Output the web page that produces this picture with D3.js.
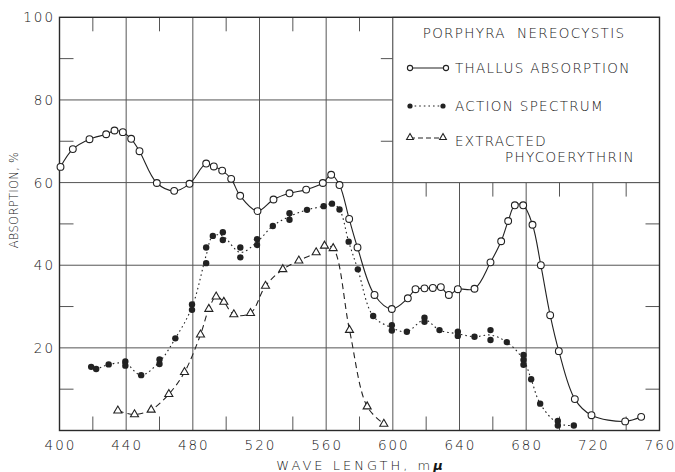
<!DOCTYPE html>
<html>
<head>
<meta charset="utf-8">
<script src="https://cdn.jsdelivr.net/npm/d3@7/dist/d3.min.js"></script>
<style>
  html, body { margin: 0; padding: 0; background: #fff; }
  svg { display: block; }
  text { font-family: "DejaVu Sans", "Liberation Sans", sans-serif; font-weight: 300; fill: #151515; }
</style>
</head>
<body>
<svg id="chart" width="675" height="472"></svg>
<script>
// Wavelength (mμ) and absorption (%) readings for each series
const thallusAbsorption = [
  [400.6, 63.8], [408, 68.1], [418, 70.5], [428, 71.7], [433, 72.6], [438, 72.2],
  [443, 70.6], [448, 67.6], [458.4, 59.9], [468.8, 58.0], [478, 59.7], [488, 64.6],
  [492.6, 63.9], [497.6, 62.9], [503, 60.9], [508.4, 56.8], [518.8, 53.1], [528.4, 55.9],
  [538, 57.4], [548, 58.3], [558, 59.9], [563, 61.9], [568, 59.4], [573.8, 51.2],
  [578.8, 44.3], [589, 32.8], [599.4, 29.4], [609, 32.0], [613.6, 34.2], [619, 34.4],
  [624, 34.5], [628.8, 34.7], [633.6, 32.8], [639, 34.2], [649, 34.3], [658.6, 40.7],
  [665, 45.8], [669.2, 50.7], [673.2, 54.5], [678.2, 54.5], [683.8, 49.8], [688.8, 40.0],
  [694.4, 27.9], [699.6, 19.2], [709.2, 7.6], [719.2, 3.7], [739.4, 2.2], [749, 3.3]
];

const actionSpectrum = [
  [419, 15.4], [422, 14.9], [429.5, 16.0], [439.5, 16.7], [439.5, 15.7], [449, 13.4],
  [460, 17.2], [460, 16.1], [469.5, 22.3], [479.5, 30.5], [479.5, 29.2], [488, 44.3],
  [488, 40.5], [492, 47.1], [498, 48.0], [498, 46.1], [508.5, 44.3], [508.5, 41.9],
  [518.5, 46.3], [518.5, 44.9], [528, 49.5], [538, 52.6], [538, 51.0], [548.5, 53.4],
  [558.5, 54.3], [563.5, 54.9], [568, 53.5], [573.5, 45.7], [579, 39.0], [588.2, 27.7],
  [599.4, 25.5], [599.4, 24.2], [608.4, 23.9], [619, 27.3], [619, 26.3], [628, 24.3],
  [639, 23.9], [639, 22.9], [649, 22.7], [658.6, 24.3], [658.6, 21.9], [668.4, 21.4],
  [678.4, 18.3], [678.4, 17.1], [678.4, 15.9], [683, 12.4], [688.4, 6.5], [699, 2.3],
  [699, 1.2], [708.6, 1.2]
];

const extractedPhycoerythrin = [
  [435, 4.8], [445, 3.9], [455, 5.0], [465.6, 8.8], [475, 14.1], [484.6, 23.2],
  [489.6, 29.4], [494, 32.4], [498.6, 31.1], [504.6, 28.1], [514.6, 28.4], [523.6, 35.0],
  [534, 39.0], [543.6, 41.1], [554, 43.1], [559, 44.7], [564.2, 44.1], [574, 24.3],
  [584.6, 5.8], [594.6, 1.6]
];

const xTickLabels = [400, 440, 480, 520, 560, 600, 640, 680, 720, 760];
const yTickLabels = [20, 40, 60, 80, 100];
const xMinorTicks = [420, 460, 500, 540, 580, 620, 660, 700, 740];
const yMinorTicks = [10, 30, 50, 70, 90];

const legendTitle = "PORPHYRA  NEREOCYSTIS";
const legendLabels = ["THALLUS ABSORPTION", "ACTION SPECTRUM", "EXTRACTED", "PHYCOERYTHRIN"];
const xTitle = "WAVE LENGTH, m";
const yTitle = "ABSORPTION, %";

const svg = d3.select("#chart");
const ink = "#222";
const gridInk = "#555";

const x = d3.scaleLinear().domain([400, 760]).range([59.5, 659.5]);
const y = d3.scaleLinear().domain([0, 100]).range([430.5, 17.3]);

const plotL = x(400), plotR = x(760), plotT = y(100), plotB = y(0);

// grid lines
const grid = svg.append("g").attr("stroke", gridInk).attr("stroke-width", 1);
grid.selectAll("line.v").data(xTickLabels.slice(1, -1)).join("line")
  .attr("x1", d => x(d)).attr("x2", d => x(d)).attr("y1", plotT).attr("y2", plotB);
grid.selectAll("line.h").data(yTickLabels.slice(0, -1)).join("line")
  .attr("x1", plotL).attr("x2", plotR).attr("y1", d => y(d)).attr("y2", d => y(d));

// minor ticks on the frame
const tickLen = 14;
const ticks = svg.append("g").attr("stroke", gridInk).attr("stroke-width", 1);
ticks.selectAll("line.t").data(xMinorTicks).join("line")
  .attr("x1", d => x(d)).attr("x2", d => x(d)).attr("y1", plotT).attr("y2", plotT + tickLen);
ticks.selectAll("line.b").data(xMinorTicks).join("line")
  .attr("x1", d => x(d)).attr("x2", d => x(d)).attr("y1", plotB).attr("y2", plotB - tickLen);
ticks.selectAll("line.l").data(yMinorTicks).join("line")
  .attr("x1", plotL).attr("x2", plotL + tickLen).attr("y1", d => y(d)).attr("y2", d => y(d));
ticks.selectAll("line.r").data(yMinorTicks).join("line")
  .attr("x1", plotR).attr("x2", plotR - tickLen).attr("y1", d => y(d)).attr("y2", d => y(d));

// legend panel in the upper right, bounded by the 600 and 60 grid lines
const boxX0 = x(600), boxY1 = y(60);
svg.append("rect")
  .attr("x", boxX0).attr("y", plotT).attr("width", plotR - boxX0).attr("height", boxY1 - plotT)
  .attr("fill", "#fff").attr("stroke", gridInk).attr("stroke-width", 1);
const boxTicks = svg.append("g").attr("stroke", gridInk).attr("stroke-width", 1);
boxTicks.selectAll("line.bb").data(xMinorTicks.filter(d => d > 600)).join("line")
  .attr("x1", d => x(d)).attr("x2", d => x(d)).attr("y1", boxY1).attr("y2", boxY1 + tickLen);
boxTicks.selectAll("line.bl").data(yMinorTicks.filter(d => d > 60)).join("line")
  .attr("x1", boxX0).attr("x2", boxX0 - 12).attr("y1", d => y(d)).attr("y2", d => y(d));

// outer frame
svg.append("rect")
  .attr("x", plotL).attr("y", plotT).attr("width", plotR - plotL).attr("height", plotB - plotT)
  .attr("fill", "none").attr("stroke", "#2a2a2a").attr("stroke-width", 1.4);

// axis labels
const tickFont = 13.5, tickSpacing = 2;
svg.append("g").selectAll("text").data(xTickLabels).join("text")
  .attr("x", d => x(d) + tickSpacing / 2).attr("y", 445)
  .attr("text-anchor", "middle").attr("dominant-baseline", "central")
  .attr("font-size", tickFont).attr("letter-spacing", tickSpacing)
  .text(d => d);
svg.append("g").selectAll("text").data(yTickLabels).join("text")
  .attr("x", 53 + tickSpacing).attr("y", d => y(d))
  .attr("text-anchor", "end").attr("dominant-baseline", "central")
  .attr("font-size", tickFont).attr("letter-spacing", tickSpacing)
  .text(d => d);

const xt = svg.append("text")
  .attr("x", (plotL + plotR) / 2 + 1.5).attr("y", 465)
  .attr("text-anchor", "middle").attr("dominant-baseline", "central")
  .attr("font-size", 13).attr("letter-spacing", 3);
xt.append("tspan").text(xTitle);
xt.append("tspan").attr("font-style", "italic").attr("font-weight", 700).text("μ");

svg.append("text")
  .attr("transform", "translate(14,200) rotate(-90)")
  .attr("text-anchor", "middle").attr("dominant-baseline", "central")
  .attr("font-size", 11.5).attr("letter-spacing", 0.3)
  .text(yTitle);

// series curves
const line = d3.line().x(d => x(d[0])).y(d => y(d[1])).curve(d3.curveCatmullRom.alpha(0.5));
const actionCurve = d3.rollups(actionSpectrum, v => d3.mean(v, d => d[1]), d => d[0])
  .sort((a, b) => a[0] - b[0]);

svg.append("path").datum(extractedPhycoerythrin).attr("d", line)
  .attr("fill", "none").attr("stroke", ink).attr("stroke-width", 1.1).attr("stroke-dasharray", "6,4");
svg.append("path").datum(actionCurve).attr("d", line)
  .attr("fill", "none").attr("stroke", ink).attr("stroke-width", 1.1).attr("stroke-dasharray", "1.6,3");
svg.append("path").datum(thallusAbsorption).attr("d", line)
  .attr("fill", "none").attr("stroke", ink).attr("stroke-width", 1.1);

// markers
const tri = d3.symbol().type(d3.symbolTriangle).size(28);
svg.append("g").selectAll("path").data(extractedPhycoerythrin).join("path")
  .attr("transform", d => `translate(${x(d[0])},${y(d[1])})`).attr("d", tri)
  .attr("fill", "#fff").attr("stroke", ink).attr("stroke-width", 1.1);
svg.append("g").selectAll("circle").data(actionSpectrum).join("circle")
  .attr("cx", d => x(d[0])).attr("cy", d => y(d[1])).attr("r", 3.2)
  .attr("fill", ink);
svg.append("g").selectAll("circle").data(thallusAbsorption).join("circle")
  .attr("cx", d => x(d[0])).attr("cy", d => y(d[1])).attr("r", 3.4)
  .attr("fill", "#fff").attr("stroke", ink).attr("stroke-width", 1.1);

// legend contents
const lg = svg.append("g");
const legFont = 13.5, legSpacing = 1.3;
lg.append("text").attr("x", 524).attr("y", 33)
  .attr("text-anchor", "middle").attr("dominant-baseline", "central")
  .attr("font-size", legFont).attr("letter-spacing", legSpacing)
  .style("white-space", "pre")
  .text(legendTitle);

const symX0 = 410, symX1 = 446;
// thallus
lg.append("line").attr("x1", symX0).attr("x2", symX1).attr("y1", 68).attr("y2", 68)
  .attr("stroke", ink).attr("stroke-width", 1.1);
lg.selectAll("circle.t").data([symX0, symX1]).join("circle")
  .attr("cx", d => d).attr("cy", 68).attr("r", 2.6)
  .attr("fill", "#fff").attr("stroke", ink).attr("stroke-width", 1.1);
// action
lg.append("line").attr("x1", symX0).attr("x2", 443).attr("y1", 106).attr("y2", 106)
  .attr("stroke", ink).attr("stroke-width", 1.1).attr("stroke-dasharray", "1.6,3");
lg.selectAll("circle.a").data([symX0, 443]).join("circle")
  .attr("cx", d => d).attr("cy", 106).attr("r", 2.6).attr("fill", ink);
// phycoerythrin
lg.append("line").attr("x1", symX0).attr("x2", 443).attr("y1", 138).attr("y2", 138)
  .attr("stroke", ink).attr("stroke-width", 1.1).attr("stroke-dasharray", "5,3");
lg.selectAll("path.p").data([symX0, 443]).join("path")
  .attr("transform", d => `translate(${d},137.5)`).attr("d", d3.symbol().type(d3.symbolTriangle).size(20))
  .attr("fill", "#fff").attr("stroke", ink).attr("stroke-width", 1.1);

const labelPos = [[455, 68], [455, 106], [455, 141], [505, 157]];
lg.selectAll("text.lab").data(legendLabels).join("text")
  .attr("x", (d, i) => labelPos[i][0]).attr("y", (d, i) => labelPos[i][1])
  .attr("dominant-baseline", "central")
  .attr("font-size", legFont).attr("letter-spacing", legSpacing)
  .text(d => d);
</script>
</body>
</html>
